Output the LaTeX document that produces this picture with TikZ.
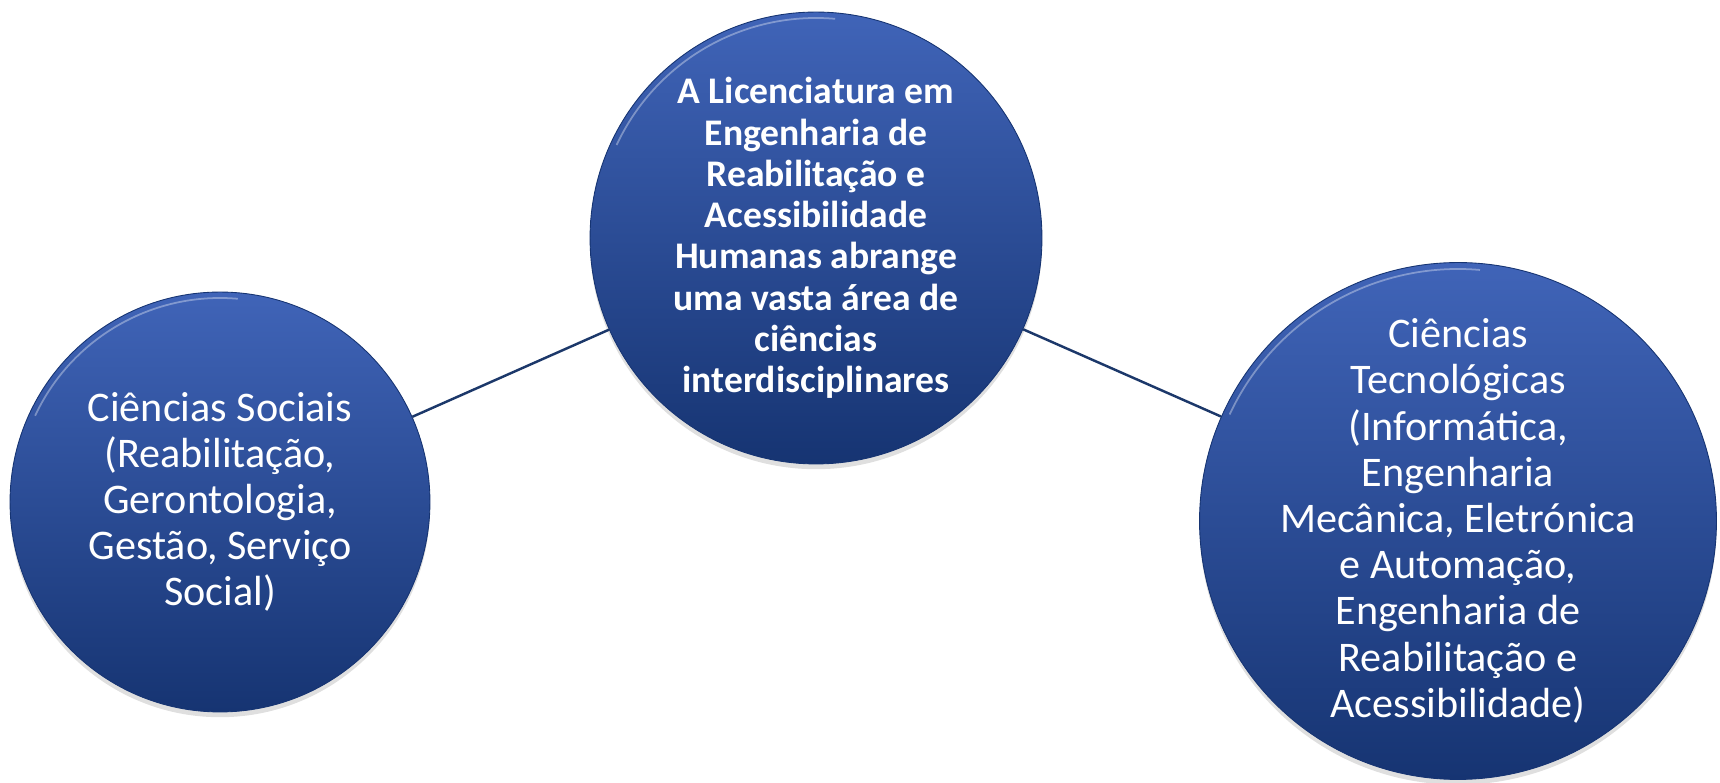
\documentclass[tikz,border=0pt]{standalone}
\usepackage{fontspec}
\setmainfont{Carlito}
\usetikzlibrary{shadows}

\definecolor{discTop}{RGB}{64,100,184}
\definecolor{discBottom}{RGB}{22,52,114}
\definecolor{linkBlue}{RGB}{28,56,106}

\begin{document}
\begin{tikzpicture}[
    x=0.02cm,
    y=0.02cm,
    disc/.style={
        circle,
        top color=discTop,
        bottom color=discBottom,
        draw=discBottom,
        line width=0.5pt,
        text=white,
        align=center,
        inner sep=0pt,
        drop shadow={opacity=0.25, shadow xshift=0pt, shadow yshift=-3pt}
    },
    plain/.style={
        font=\fontsize{24}{26.3}\selectfont
    },
    heading/.style={
        font=\fontsize{21.4}{23.5}\selectfont\bfseries
    },
    link/.style={
        draw=linkBlue,
        line width=1.4pt
    },
    glint/.style={
        white,
        opacity=0.35,
        line width=1pt
    }
]

\useasboundingbox (0,0) rectangle (1720,783);

% =================================================
% Os três círculos
% =================================================

\node[disc, heading, minimum size=9.04cm] (lic) at (816,545)
    {A Licenciatura em\\Engenharia de\\Reabilitação e\\Acessibilidade\\Humanas abrange\\uma vasta área de\\ciências\\interdisciplinares};

\node[disc, plain, minimum size=8.4cm] (soc) at (220,281)
    {Ciências Sociais\\(Reabilitação,\\Gerontologia,\\Gestão, Serviço\\Social)};

\node[disc, plain, minimum size=10.34cm, inner sep=-1cm] (tec) at (1458,262)
    {Ciências\\Tecnológicas\\(Informática,\\Engenharia\\Mecânica, Eletrónica\\e Automação,\\Engenharia de\\Reabilitação e\\Acessibilidade)};

% =================================================
% Ligações
% =================================================

\draw[link] (soc) -- (lic);
\draw[link] (lic) -- (tec);

% =================================================
% Brilho no topo
% =================================================

\draw[glint] (lic.center) ++(155:220) arc[start angle=155, end angle=85, radius=220];
\draw[glint] (soc.center) ++(155:204) arc[start angle=155, end angle=85, radius=204];
\draw[glint] (tec.center) ++(155:252) arc[start angle=155, end angle=85, radius=252];

\end{tikzpicture}
\end{document}
